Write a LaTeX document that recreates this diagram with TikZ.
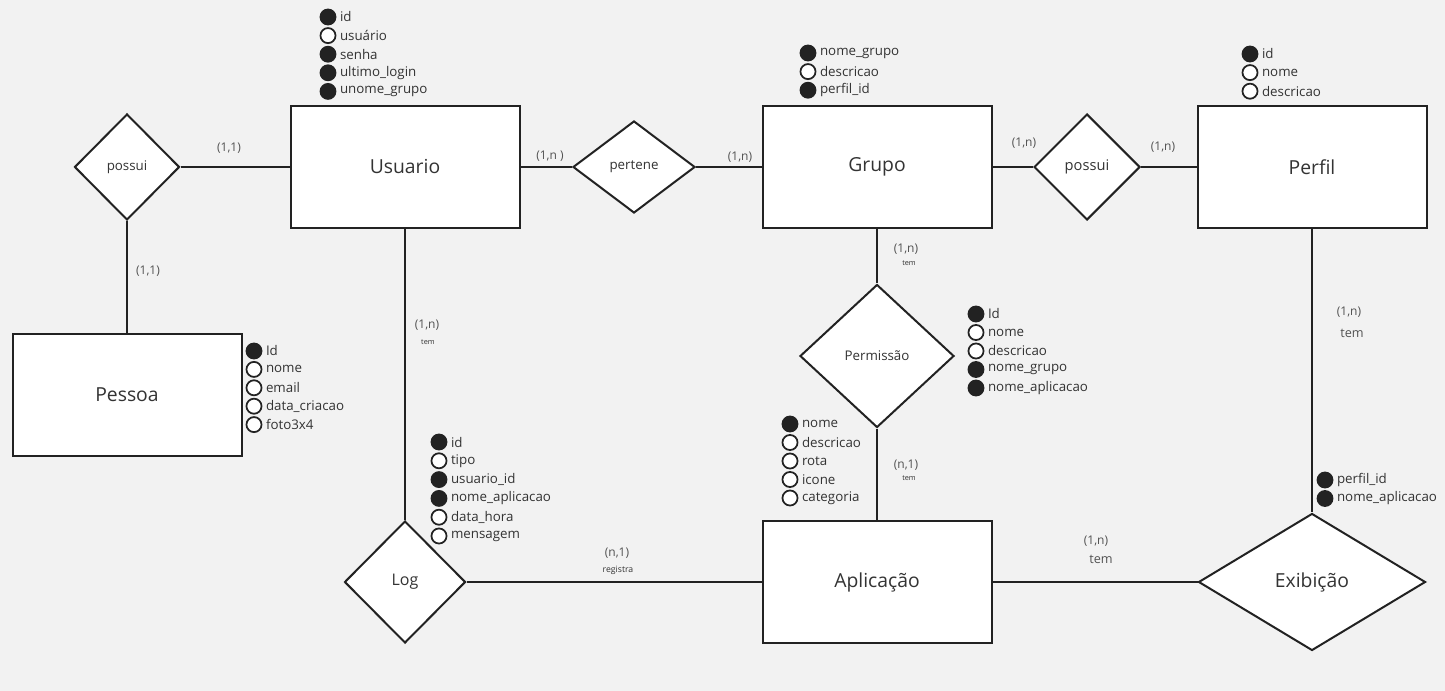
\documentclass[tikz,border=0pt]{standalone}
\usepackage{fontspec}
\setmainfont{Open Sans}
\usetikzlibrary{shapes.geometric}
\definecolor{bgcol}{HTML}{F2F2F2}
\definecolor{linecol}{HTML}{222222}
\definecolor{txtcol}{HTML}{333333}

\tikzset{
  entity/.style={draw=linecol, fill=white, line width=1.5pt, minimum width=171.75pt,
    minimum height=91.5pt, text=txtcol, font=\fontsize{14.5}{16}\selectfont},
  rel/.style={diamond, draw=linecol, fill=white, line width=1.5pt, inner sep=0pt,
    text=txtcol, font=\fontsize{10}{12}\selectfont},
  link/.style={draw=linecol, line width=1.5pt},
  card/.style={text=txtcol!85, font=\fontsize{9}{10}\selectfont, inner sep=0pt},
  tiny/.style={text=txtcol, font=\fontsize{5.5}{6}\selectfont, inner sep=0pt},
  attr/.style={circle, draw=linecol, line width=1.3pt, minimum size=11.3pt, inner sep=0pt},
  pk/.style={attr, fill=linecol},
  nk/.style={attr, fill=white},
  attrtext/.style={text=txtcol, font=\fontsize{10}{12}\selectfont, inner sep=0.5pt, label distance=2pt}
}

\begin{document}
\begin{tikzpicture}[x=0.75pt, y=-0.75pt]
    \fill[bgcol] (0,0) rectangle (1445,691);
    \useasboundingbox (0,0) rectangle (1445,691);

    % entidades
    \node[entity] (usuario) at (405,167) {Usuario};
    \node[entity] (grupo) at (877,167) {Grupo};
    \node[entity] (perfil) at (1312,167) {Perfil};
    \node[entity] (pessoa) at (127,395) {Pessoa};
    \node[entity] (aplicacao) at (877,582) {Aplicação};

    % relacionamentos
    \node[rel, minimum width=78.75pt, minimum height=79.5pt] (possui1) at (127,167) {possui};
    \node[rel, minimum width=91.5pt, minimum height=69pt] (pertene) at (634,167) {pertene};
    \node[rel, minimum width=79.5pt, minimum height=79.5pt,
      font=\fontsize{11}{13}\selectfont] (possui2) at (1087,167) {possui};
    \node[rel, minimum width=115.5pt, minimum height=107.25pt] (permissao) at (877,356) {Permissão};
    \node[rel, minimum width=90.75pt, minimum height=91.5pt,
      font=\fontsize{12}{14}\selectfont] (log) at (405,582) {Log};
    \node[rel, minimum width=170.25pt, minimum height=102.75pt,
      font=\fontsize{14.5}{16}\selectfont] (exibicao) at (1312,582) {Exibição};

    % ligacoes
    \draw[link] (possui1) -- (usuario);
    \draw[link] (possui1) -- (pessoa);
    \draw[link] (usuario) -- (pertene);
    \draw[link] (pertene) -- (grupo);
    \draw[link] (grupo) -- (possui2);
    \draw[link] (possui2) -- (perfil);
    \draw[link] (grupo) -- (permissao);
    \draw[link] (permissao) -- (aplicacao);
    \draw[link] (usuario) -- (log);
    \draw[link] (log) -- (aplicacao);
    \draw[link] (aplicacao) -- (exibicao);
    \draw[link] (perfil) -- (exibicao);

    % cardinalidades
    \node[card] (c1) at (229,148) {(1,1)};
    \node[card] (c2) at (148,271) {(1,1)};
    \node[card] (c3) at (550,156) {(1,n )};
    \node[card] (c4) at (740,157) {(1,n)};
    \node[card] (c5) at (1024,143) {(1,n)};
    \node[card] (c6) at (1163,147) {(1,n)};
    \node[card] (c7) at (906,249) {(1,n)};
    \node[tiny] (t7) at (909,263) {tem};
    \node[card] (c8) at (906,465) {(n,1)};
    \node[tiny] (t8) at (909,478) {tem};
    \node[card] (c9) at (427,325) {(1,n)};
    \node[tiny] (t9) at (428,342) {tem};
    \node[card] (c10) at (617,553) {(n,1)};
    \node[tiny, font=\fontsize{6.5}{7}\selectfont] (t10) at (618,570) {registra};
    \node[card] (c11) at (1096,541) {(1,n)};
    \node[card, font=\fontsize{9.5}{10}\selectfont] (t11) at (1101,559) {tem};
    \node[card] (c12) at (1349,312) {(1,n)};
    \node[card, font=\fontsize{9.5}{10}\selectfont] (t12) at (1352,333) {tem};

    % atributos
    \foreach \t/\k [count=\i from 0] in {id/pk, usuário/nk, senha/pk, ultimo\_login/pk, unome\_grupo/pk}
      \node[\k, label={[attrtext]right:\t}] (usu-\i) at (328,17+\i*18.6) {};
    \foreach \t/\k [count=\i from 0] in {nome\_grupo/pk, descricao/nk, perfil\_id/pk}
      \node[\k, label={[attrtext]right:\t}] (gru-\i) at (808,53+\i*18.6) {};
    \foreach \t/\k [count=\i from 0] in {id/pk, nome/nk, descricao/nk}
      \node[\k, label={[attrtext]right:\t}] (per-\i) at (1250,54+\i*18.6) {};
    \foreach \t/\k [count=\i from 0] in {Id/pk, nome/nk, email/nk, data\_criacao/nk, foto3x4/nk}
      \node[\k, label={[attrtext]right:\t}] (pes-\i) at (254,351+\i*18.4) {};
    \foreach \t/\k [count=\i from 0] in {Id/pk, nome/nk, descricao/nk, nome\_grupo/pk, nome\_aplicacao/pk}
      \node[\k, label={[attrtext]right:\t}] (prm-\i) at (976,314+\i*18.5) {};
    \foreach \t/\k [count=\i from 0] in {nome/pk, descricao/nk, rota/nk, icone/nk, categoria/nk}
      \node[\k, label={[attrtext]right:\t}] (apl-\i) at (790,424+\i*18.5) {};
    \foreach \t/\k [count=\i from 0] in {id/pk, tipo/nk, usuario\_id/pk, nome\_aplicacao/pk, data\_hora/nk, mensagem/nk}
      \node[\k, label={[attrtext]right:\t}] (log-\i) at (439,442+\i*18.8) {};
    \foreach \t/\k [count=\i from 0] in {perfil\_id/pk, nome\_aplicacao/pk}
      \node[\k, label={[attrtext]right:\t}] (exi-\i) at (1325,480+\i*18.5) {};
\end{tikzpicture}
\end{document}
